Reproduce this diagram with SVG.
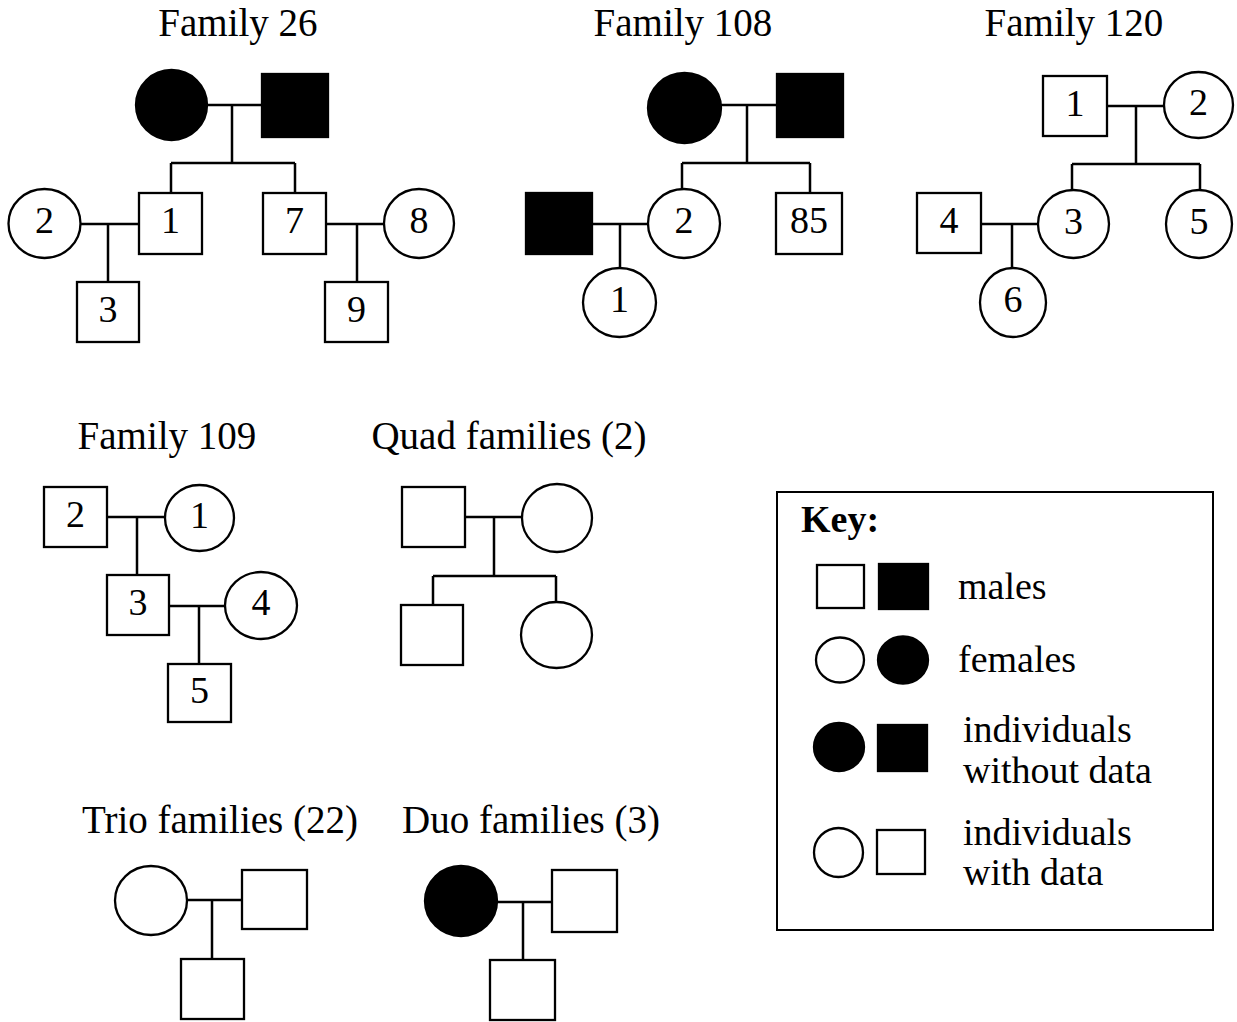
<svg xmlns="http://www.w3.org/2000/svg" width="1237" height="1022" viewBox="0 0 1237 1022">
  <style>
    .ind { fill: #fff; stroke: #000; stroke-width: 2.3; }
    .nodata { fill: #000; stroke: #000; stroke-width: 2.3; }
    .line { fill: none; stroke: #000; stroke-width: 2.5; }
    text { font-family: "Liberation Serif", "Times New Roman", serif; fill: #000; }
    .title { font-size: 39px; text-anchor: middle; }
    .num { font-size: 38px; text-anchor: middle; }
    .key { font-size: 38px; }
    .keyhead { font-size: 38px; font-weight: bold; }
  </style>
  <rect width="1237" height="1022" fill="#fff"/>

  <!-- titles -->
  <g id="titles">
    <text class="title" x="238" y="36">Family 26</text>
    <text class="title" x="683" y="36">Family 108</text>
    <text class="title" x="1074" y="36">Family 120</text>
    <text class="title" x="167" y="449">Family 109</text>
    <text class="title" x="509" y="449">Quad families (2)</text>
    <text class="title" x="220" y="833">Trio families (22)</text>
    <text class="title" x="531" y="833">Duo families (3)</text>
  </g>

  <!-- connectors: marriage lines, descent lines and sibships -->
  <g id="connectors" class="line">
    <path d="M207 105H262M232 105V163M171 163H295M171 163V193M295 163V193M81 224H139M108 224V282M326 224H384M357 224V282"/>
    <path d="M721 105H777M747 105V163M682 163H810M682 163V189M810 163V193M592 224H648M620 224V268"/>
    <path d="M1107 106H1164M1136 106V164M1072 164H1200M1072 164V190M1200 164V190M981 224H1038M1012 224V268"/>
    <path d="M107 517H165M137 517V575M169 606H225M199 606V664"/>
    <path d="M465 517H522M494 517V576M433 576H556M433 576V605M556 576V602"/>
    <path d="M187 900H242M212 900V959"/>
    <path d="M497 902H552M523 902V960"/>
  </g>

  <!-- Family 26 -->
  <g id="f26-mother"><ellipse class="nodata" cx="171.5" cy="105" rx="35.5" ry="35"/></g>
  <g id="f26-father"><rect class="nodata" x="262" y="74" width="66" height="63"/></g>
  <g id="f26-1"><rect class="ind" x="139" y="193" width="63" height="61"/><text class="num" x="170.5" y="233">1</text></g>
  <g id="f26-7"><rect class="ind" x="263" y="193" width="63" height="61"/><text class="num" x="294.5" y="233">7</text></g>
  <g id="f26-2"><ellipse class="ind" cx="44.5" cy="223.5" rx="36" ry="34.5"/><text class="num" x="44.5" y="233">2</text></g>
  <g id="f26-8"><ellipse class="ind" cx="419" cy="223.5" rx="35" ry="34.5"/><text class="num" x="419" y="233">8</text></g>
  <g id="f26-3"><rect class="ind" x="77" y="282" width="62" height="60"/><text class="num" x="108" y="322">3</text></g>
  <g id="f26-9"><rect class="ind" x="325" y="282" width="63" height="60"/><text class="num" x="356.5" y="322">9</text></g>

  <!-- Family 108 -->
  <g id="f108-mother"><ellipse class="nodata" cx="684.5" cy="108" rx="36.5" ry="35"/></g>
  <g id="f108-father"><rect class="nodata" x="777" y="74" width="66" height="63"/></g>
  <g id="f108-spouse"><rect class="nodata" x="526" y="193" width="66" height="61"/></g>
  <g id="f108-2"><ellipse class="ind" cx="684" cy="223.5" rx="36" ry="34.5"/><text class="num" x="684" y="233">2</text></g>
  <g id="f108-85"><rect class="ind" x="776" y="193" width="66" height="61"/><text class="num" x="809" y="233">85</text></g>
  <g id="f108-1"><ellipse class="ind" cx="619.5" cy="302.5" rx="36.5" ry="34.5"/><text class="num" x="619.5" y="312">1</text></g>

  <!-- Family 120 -->
  <g id="f120-1"><rect class="ind" x="1043" y="76" width="64" height="60"/><text class="num" x="1075" y="116">1</text></g>
  <g id="f120-2"><ellipse class="ind" cx="1198.5" cy="105" rx="34.5" ry="33"/><text class="num" x="1198.5" y="115">2</text></g>
  <g id="f120-3"><ellipse class="ind" cx="1073.5" cy="224" rx="35.5" ry="34"/><text class="num" x="1073.5" y="234">3</text></g>
  <g id="f120-5"><ellipse class="ind" cx="1199" cy="224" rx="33" ry="34"/><text class="num" x="1199" y="234">5</text></g>
  <g id="f120-4"><rect class="ind" x="917" y="193" width="64" height="60"/><text class="num" x="949" y="233">4</text></g>
  <g id="f120-6"><ellipse class="ind" cx="1013" cy="302.5" rx="33" ry="34.5"/><text class="num" x="1013" y="312">6</text></g>

  <!-- Family 109 -->
  <g id="f109-2"><rect class="ind" x="44" y="487" width="63" height="60"/><text class="num" x="75.5" y="527">2</text></g>
  <g id="f109-1"><ellipse class="ind" cx="199.5" cy="518" rx="34.5" ry="33"/><text class="num" x="199.5" y="528">1</text></g>
  <g id="f109-3"><rect class="ind" x="107" y="575" width="62" height="60"/><text class="num" x="138" y="615">3</text></g>
  <g id="f109-4"><ellipse class="ind" cx="261" cy="605.5" rx="36" ry="33.5"/><text class="num" x="261" y="615">4</text></g>
  <g id="f109-5"><rect class="ind" x="168" y="664" width="63" height="58"/><text class="num" x="199.5" y="703">5</text></g>

  <!-- Quad families -->
  <g id="quad-father"><rect class="ind" x="402" y="487" width="63" height="60"/></g>
  <g id="quad-mother"><ellipse class="ind" cx="557" cy="518" rx="35" ry="34"/></g>
  <g id="quad-son"><rect class="ind" x="401" y="605" width="62" height="60"/></g>
  <g id="quad-daughter"><ellipse class="ind" cx="556.5" cy="635" rx="35.5" ry="33"/></g>

  <!-- Trio families -->
  <g id="trio-mother"><ellipse class="ind" cx="151" cy="900.5" rx="36" ry="34.5"/></g>
  <g id="trio-father"><rect class="ind" x="242" y="870" width="65" height="59"/></g>
  <g id="trio-child"><rect class="ind" x="181" y="959" width="63" height="60"/></g>

  <!-- Duo families -->
  <g id="duo-mother"><ellipse class="nodata" cx="461" cy="901" rx="36" ry="35"/></g>
  <g id="duo-father"><rect class="ind" x="552" y="870" width="65" height="62"/></g>
  <g id="duo-child"><rect class="ind" x="490" y="960" width="65" height="60"/></g>

  <!-- Key -->
  <g id="key">
    <rect x="777" y="492" width="436" height="438" fill="#fff" stroke="#000" stroke-width="2"/>
    <text class="keyhead" x="801" y="532">Key:</text>
    <rect class="ind" x="817" y="565" width="47" height="43"/>
    <rect class="nodata" x="879" y="564" width="49" height="45"/>
    <text class="key" x="958" y="599">males</text>
    <ellipse class="ind" cx="840" cy="660" rx="24" ry="22.5"/>
    <ellipse class="nodata" cx="903" cy="660" rx="25" ry="23.5"/>
    <text class="key" x="958" y="672">females</text>
    <ellipse class="nodata" cx="839" cy="747" rx="25" ry="24"/>
    <rect class="nodata" x="878" y="725" width="49" height="46"/>
    <text class="key" x="963" y="742">individuals</text>
    <text class="key" x="963" y="783">without data</text>
    <ellipse class="ind" cx="838.5" cy="852.5" rx="24.5" ry="24.5"/>
    <rect class="ind" x="877" y="830" width="48" height="44"/>
    <text class="key" x="963" y="845">individuals</text>
    <text class="key" x="963" y="885">with data</text>
  </g>
</svg>
